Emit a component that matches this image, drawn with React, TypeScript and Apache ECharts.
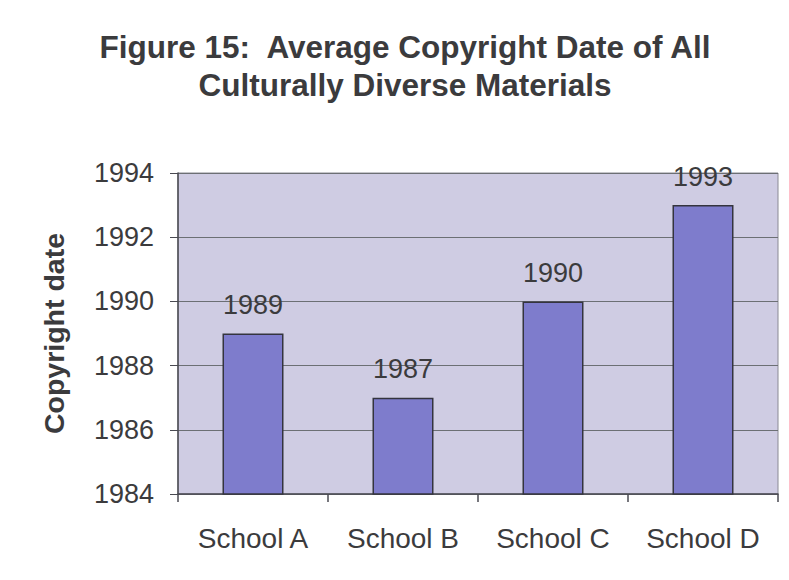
import React, { useEffect, useRef } from "react";
import * as echarts from "echarts";

// Average copyright date per school
const schools = ["School A", "School B", "School C", "School D"];
const avgCopyrightYear = [1989, 1987, 1990, 1993];

const titleLines = [
  "Figure 15:  Average Copyright Date of All",
  "Culturally Diverse Materials",
];
const yAxisTitle = "Copyright date";
const yMin = 1984;
const yMax = 1994;
const yStep = 2;

const FONT = "'Liberation Sans', Arial, Helvetica, sans-serif";
const TEXT = "#3b3b3d";

export default function App() {
  const ref = useRef<HTMLDivElement>(null);

  useEffect(() => {
    document.body.style.margin = "0";
    if (!ref.current) return;
    const chart = echarts.init(ref.current, undefined, { renderer: "svg" });
    chart.setOption({
      animation: false,
      backgroundColor: "#ffffff",
      textStyle: { fontFamily: FONT },
      title: {
        text: titleLines.join("\n"),
        left: 405,
        textAlign: "center",
        top: 28,
        padding: 0,
        textStyle: {
          fontFamily: FONT,
          fontSize: 31.5,
          fontWeight: "bold",
          lineHeight: 38,
          color: TEXT,
        },
      },
      grid: {
        left: 178,
        right: 11,
        top: 173,
        bottom: 86,
        show: true,
        backgroundColor: "#cfcce3",
        borderColor: "#8a8a94",
        borderWidth: 1,
      },
      xAxis: {
        type: "category",
        data: schools,
        boundaryGap: true,
        axisLine: { show: true, lineStyle: { color: "#4a4a52", width: 1.5 } },
        axisTick: {
          show: true,
          length: 8,
          lineStyle: { color: "#4a4a52", width: 1.5 },
        },
        axisLabel: {
          margin: 30,
          fontFamily: FONT,
          fontSize: 28,
          color: TEXT,
        },
      },
      yAxis: {
        type: "value",
        min: yMin,
        max: yMax,
        interval: yStep,
        name: yAxisTitle,
        nameLocation: "middle",
        nameRotate: 90,
        nameGap: 110,
        nameTextStyle: {
          fontFamily: FONT,
          fontSize: 28.5,
          fontWeight: "bold",
          color: TEXT,
        },
        axisLine: { show: true, lineStyle: { color: "#4a4a52", width: 1.5 } },
        axisTick: {
          show: true,
          length: 8,
          lineStyle: { color: "#4a4a52", width: 1 },
        },
        axisLabel: {
          margin: 24,
          fontFamily: FONT,
          fontSize: 27,
          color: TEXT,
          formatter: (v: number) => String(v),
        },
        splitLine: {
          show: true,
          lineStyle: { color: "#6c6f74", width: 1 },
        },
      },
      series: [
        {
          type: "bar",
          data: avgCopyrightYear,
          barWidth: 61,
          itemStyle: {
            color: "#7e7ccc",
            borderColor: "#34343e",
            borderWidth: 1.5,
          },
          label: {
            show: true,
            position: "top",
            distance: 15,
            fontFamily: FONT,
            fontSize: 27,
            color: TEXT,
          },
        },
      ],
    });
    return () => chart.dispose();
  }, []);

  return <div ref={ref} style={{ width: 789, height: 580 }} />;
}
